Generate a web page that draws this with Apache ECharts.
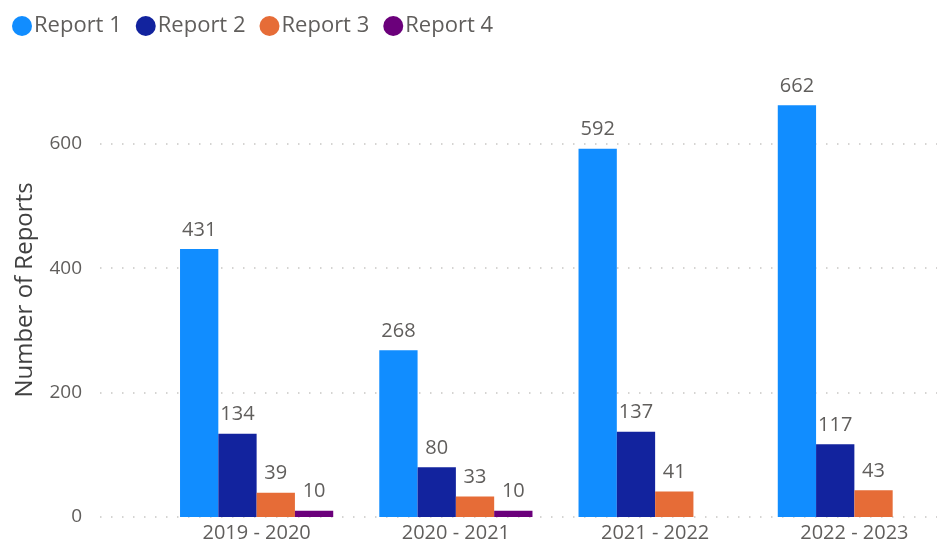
<!DOCTYPE html>
<html>
<head>
<meta charset="utf-8">
<script src="https://cdn.jsdelivr.net/npm/echarts@6/dist/echarts.min.js"></script>
<style>
  html, body { margin: 0; padding: 0; background: #fff; }
  #chart { width: 937px; height: 546px; }
</style>
</head>
<body>
<div id="chart"></div>
<script>
// data
const years = ['2019 - 2020', '2020 - 2021', '2021 - 2022', '2022 - 2023']
const report1 = [431, 268, 592, 662]
const report2 = [134, 80, 137, 117]
const report3 = [39, 33, 41, 43]
const report4 = [10, 10, null, null]
const seriesNames = ['Report 1', 'Report 2', 'Report 3', 'Report 4']
const yTicks = [0, 200, 400, 600]

const colors = ['#118DFF', '#12239E', '#E66C37', '#6B007B']
const font = "'Segoe UI', 'Open Sans', sans-serif"
const labelColor = '#605E5C'

// y scale shared by both grids
const yMax = 680
const gridTop = 94
const gridBottom = 29

const chart = echarts.init(document.getElementById('chart'))

const makeSeries = (name, data, i) => ({
  name: name,
  type: 'bar',
  xAxisIndex: 1,
  yAxisIndex: 1,
  data: data,
  barWidth: 38.3,
  barGap: '0%',
  itemStyle: { color: colors[i] },
  label: {
    show: true,
    position: 'top',
    distance: 9,
    color: labelColor,
    fontFamily: font,
    fontSize: 20
  }
})

const option = {
  animation: false,
  color: colors,
  textStyle: { fontFamily: font },
  legend: {
    data: seriesNames,
    left: 7,
    top: 10,
    icon: 'circle',
    itemWidth: 20,
    itemHeight: 20,
    itemGap: 14,
    textStyle: { color: labelColor, fontSize: 22, fontFamily: font, padding: [0, 0, 0, -3] }
  },
  grid: [
    // grid for the dotted grid lines and y labels
    { left: 100, right: 0, top: gridTop, bottom: gridBottom, outerBoundsMode: 'none' },
    // grid for the bars (wider than the canvas, so the bands line up)
    { left: 157, width: 797, top: gridTop, bottom: gridBottom, outerBoundsMode: 'none' }
  ],
  xAxis: [
    { gridIndex: 0, type: 'value', min: 0, max: 1, show: false },
    {
      gridIndex: 1,
      type: 'category',
      data: years,
      axisLine: { show: false },
      axisTick: { show: false },
      axisLabel: {
        color: labelColor,
        fontSize: 20,
        fontFamily: font,
        margin: 6
      }
    }
  ],
  yAxis: [
    {
      gridIndex: 0,
      type: 'value',
      min: 0,
      max: yMax,
      interval: 200,
      axisLine: { show: false },
      axisTick: { show: false },
      axisLabel: {
        color: labelColor,
        fontSize: 19,
        fontFamily: font,
        margin: 18,
        showMaxLabel: false,
        formatter: v => (yTicks.indexOf(v) >= 0 ? String(v) : '')
      },
      splitLine: {
        show: true,
        showMaxLine: false,
        lineStyle: { color: '#C8C6C4', width: 1.5, type: [1.5, 9.5] }
      }
    },
    {
      gridIndex: 1,
      type: 'value',
      min: 0,
      max: yMax,
      show: false,
      splitLine: { show: false }
    }
  ],
  graphic: [{
    type: 'text',
    x: 25,
    y: 290,
    rotation: Math.PI / 2,
    style: {
      text: 'Number of Reports',
      fill: '#404040',
      font: "24px 'Segoe UI', 'Open Sans', sans-serif",
      align: 'center',
      verticalAlign: 'middle'
    }
  }],
  series: [
    makeSeries(seriesNames[0], report1, 0),
    makeSeries(seriesNames[1], report2, 1),
    makeSeries(seriesNames[2], report3, 2),
    makeSeries(seriesNames[3], report4, 3)
  ]
}

chart.setOption(option)
</script>
</body>
</html>
